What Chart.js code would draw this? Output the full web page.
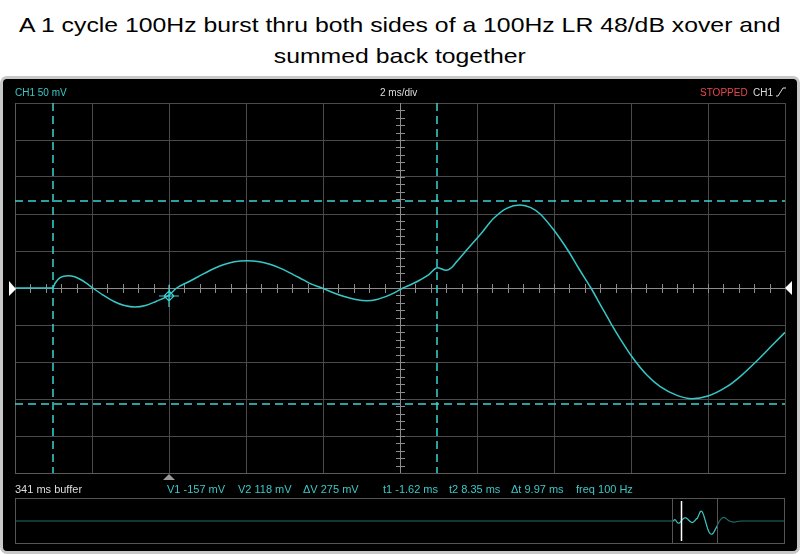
<!DOCTYPE html>
<html lang="en">
<head>
<meta charset="UTF-8">
<title>100Hz burst - LR 48dB xover summed</title>
<style>
  body { margin: 0; width: 800px; height: 554px; background: #fff; position: relative; overflow: hidden;
         font-family: "Liberation Sans", Arial, sans-serif; }
  .title { position: absolute; left: 0; width: 800px; text-align: center; font-size: 21px; line-height: 31px; color: #000; }
  .title span { display: inline-block; transform: scaleX(1.18); transform-origin: center; }
  .scope { position: absolute; left: 0; top: 76px; width: 800px; height: 478px; box-sizing: border-box;
           background: #000; border: 3px solid #c8c8c8; border-radius: 7px; }
  canvas { position: absolute; left: 0; }
  .lbl { position: absolute; font-size: 11px; line-height: 12px; white-space: nowrap; color: #ddd; }
  .hd { font-size: 10px; }
  .cy { color: #3cc8c8; }
</style>
</head>
<body>
<div class="title" style="top:9px"><span>A 1 cycle 100Hz burst thru both sides of a 100Hz LR 48/dB xover and</span></div>
<div class="title" style="top:40px"><span>summed back together</span></div>
<div class="scope"></div>

<canvas id="main" width="800" height="410" style="top:75px"></canvas>
<canvas id="overview" width="800" height="64" style="top:490px"></canvas>

<!-- textos do cabeçalho e rodapé do osciloscópio -->
<div class="lbl hd cy" style="left:15px; top:87px">CH1 50 mV</div>
<div class="lbl hd" style="left:380px; top:87px">2 ms/div</div>
<div class="lbl hd" style="left:700px; top:87px; color:#e84848">STOPPED</div>
<div class="lbl hd" style="left:753px; top:87px">CH1</div>
<svg style="position:absolute; left:776px; top:87px" width="10" height="10"><polyline points="0,9 2,9 7,1 10,1" fill="none" stroke="#ddd" stroke-width="1"/></svg>

<div class="lbl" style="left:15px; top:483px">341 ms buffer</div>
<div class="lbl cy" style="left:167px; top:483px">V1 -157 mV</div>
<div class="lbl cy" style="left:238px; top:483px">V2 118 mV</div>
<div class="lbl cy" style="left:303px; top:483px">&Delta;V 275 mV</div>
<div class="lbl cy" style="left:383px; top:483px">t1 -1.62 ms</div>
<div class="lbl cy" style="left:449px; top:483px">t2 8.35 ms</div>
<div class="lbl cy" style="left:511px; top:483px">&Delta;t 9.97 ms</div>
<div class="lbl cy" style="left:576px; top:483px">freq 100 Hz</div>

<script src="https://cdn.jsdelivr.net/npm/chart.js"></script>
<script>
const TIME_MS = [-2.6, -1.62, -1.56, -1.43, -1.22, -1.05, -0.91, -0.75, -0.58, -0.305, -0.03, 0.245, 0.52,
                 0.79, 1.06, 1.37, 1.6, 1.95, 2.29, 2.6, 2.81, 3.1, 3.42, 3.75, 4.02, 4.3, 4.54, 4.89, 5.1,
                 5.37, 5.65, 5.95, 6.25, 6.54, 6.8, 7.01, 7.25, 7.48, 7.7, 7.92, 8.15, 8.37, 8.6, 8.75,
                 8.87, 9.11, 9.53, 9.82, 10.17, 10.52, 10.8, 11.04, 11.4, 11.76, 12.06, 12.36, 12.62,
                 12.88, 13.16, 13.44, 13.8, 14.15, 14.61, 14.98, 15.4, 15.89, 16.25, 16.64, 17.15, 17.4];
const VOLTAGE_MV = [0, 0, 6.4, 13.9, 16.6, 15.2, 11.8, 6.5, 0, -9.8, -18.2, -23.7, -25.7,
                    -23.7, -18.2, -10.8, 0, 9.5, 19, 27, 31.5, 35.5, 36.9, 35.5, 32, 26.5, 20.5, 11, 5.3,
                    0, -6, -11.5, -15.5, -17.2, -15.5, -12, -6.5, 0, 5, 10.8, 18, 27.4, 23.9, 28,
                    35.5, 50, 75, 93.5, 107.7, 112.2, 108.7, 100, 78, 51, 25, 0, -24,
                    -48, -72, -94, -117, -133, -145.5, -149.6, -146, -133.4, -119, -100, -73, -60];

// resto do buffer (só aparece na visão geral)
const TAIL_MS = [18.6, 20.5, 23, 25, 28, 47.6];
const TAIL_MV = [0, 40, 0, -12, 0, 0];

// cursores e trigger
const CURSOR_T = [-1.62, 8.35];
const CURSOR_V = [-157, 118];
const TRIGGER_MS = 1.4;
const TRIGGER_MV = -10.8;

// escalas: 2 ms/div, 50 mV/div, 10 x 10 divisões
const X_MIN = -2.6, MS_PER_DIV = 2, DIVS_X = 10;
const V_PER_DIV = 50, DIVS_Y = 10;
const BUFFER_START = -293.4, BUFFER_END = 47.6;

const TRACE = '#36c8c8';
const CURSOR = '#3fd2d2';

const pontos = TIME_MS.map((t, i) => ({ x: t, y: VOLTAGE_MV[i] }));

// eixos centrais, cursores tracejados e marcadores
const scopeDecor = {
    id: 'scopeDecor',
    beforeDatasetsDraw(chart) {
        const { ctx, chartArea: a, scales: { x, y } } = chart;
        const cx = (a.left + a.right) / 2, cy = y.getPixelForValue(0);
        ctx.save();
        ctx.strokeStyle = '#8c8c8c';
        ctx.lineWidth = 1;
        ctx.beginPath();
        ctx.moveTo(a.left, Math.round(cy) + 0.5); ctx.lineTo(a.right, Math.round(cy) + 0.5);
        ctx.moveTo(Math.round(cx) + 0.5, a.top); ctx.lineTo(Math.round(cx) + 0.5, a.bottom);
        const dx = (a.right - a.left) / DIVS_X / 5;
        for (let i = 1; i < DIVS_X * 5; i++) {
            const px = Math.round(a.left + i * dx) + 0.5;
            ctx.moveTo(px, cy - 4); ctx.lineTo(px, cy + 5);
        }
        const dy = (a.bottom - a.top) / DIVS_Y / 5;
        for (let i = 1; i < DIVS_Y * 5; i++) {
            const py = Math.round(a.top + i * dy) + 0.5;
            ctx.moveTo(cx - 4, py); ctx.lineTo(cx + 5, py);
        }
        ctx.stroke();

        ctx.strokeStyle = CURSOR;
        ctx.lineWidth = 1.5;
        ctx.setLineDash([8, 5]);
        ctx.beginPath();
        CURSOR_T.forEach(t => {
            const px = Math.round(x.getPixelForValue(t));
            ctx.moveTo(px, a.top); ctx.lineTo(px, a.bottom);
        });
        CURSOR_V.forEach(v => {
            const py = Math.round(y.getPixelForValue(v));
            ctx.moveTo(a.left, py); ctx.lineTo(a.right, py);
        });
        ctx.stroke();
        ctx.restore();
    },
    afterDatasetsDraw(chart) {
        const { ctx, chartArea: a, scales: { x, y } } = chart;
        const cy = y.getPixelForValue(0);
        ctx.save();
        // marcador do trigger sobre o traço
        const tx = x.getPixelForValue(TRIGGER_MS), ty = y.getPixelForValue(TRIGGER_MV);
        ctx.strokeStyle = CURSOR;
        ctx.lineWidth = 1.2;
        ctx.beginPath();
        ctx.moveTo(tx - 10, ty); ctx.lineTo(tx + 10, ty);
        ctx.moveTo(tx, ty - 11); ctx.lineTo(tx, ty + 11);
        ctx.moveTo(tx, ty - 5); ctx.lineTo(tx + 5, ty); ctx.lineTo(tx, ty + 5); ctx.lineTo(tx - 5, ty); ctx.closePath();
        ctx.stroke();
        // seta do nível zero (esquerda e direita)
        ctx.fillStyle = '#fff';
        ctx.beginPath();
        ctx.moveTo(a.left - 6, cy - 7); ctx.lineTo(a.left + 1, cy + 1); ctx.lineTo(a.left - 6, cy + 8); ctx.closePath();
        ctx.fill();
        ctx.beginPath();
        ctx.moveTo(a.right + 7, cy - 7); ctx.lineTo(a.right, cy); ctx.lineTo(a.right + 7, cy + 7); ctx.closePath();
        ctx.fill();
        // triângulo da posição do trigger
        ctx.fillStyle = '#9a9a9a';
        ctx.beginPath();
        ctx.moveTo(tx - 6, a.bottom + 7); ctx.lineTo(tx, a.bottom + 1); ctx.lineTo(tx + 6, a.bottom + 7); ctx.closePath();
        ctx.fill();
        ctx.restore();
    }
};

const gradeX = {
    type: 'linear',
    min: X_MIN,
    max: X_MIN + MS_PER_DIV * DIVS_X,
    afterBuildTicks: s => { s.ticks = Array.from({ length: DIVS_X + 1 }, (_, i) => ({ value: X_MIN + i * MS_PER_DIV })); },
    ticks: { display: false },
    grid: { color: '#4a4a4a', drawTicks: false },
    border: { color: '#5a5a5a' }
};

new Chart(document.getElementById('main'), {
    type: 'line',
    data: {
        datasets: [{
            data: pontos,
            borderColor: TRACE,
            borderWidth: 1.5,
            pointRadius: 0,
            cubicInterpolationMode: 'monotone'
        }]
    },
    options: {
        responsive: false,
        animation: false,
        devicePixelRatio: 1,
        layout: { padding: { left: 15, right: 15, top: 28, bottom: 12 } },
        plugins: { legend: { display: false }, tooltip: { enabled: false } },
        scales: {
            x: gradeX,
            y: {
                min: -V_PER_DIV * DIVS_Y / 2,
                max: V_PER_DIV * DIVS_Y / 2,
                ticks: { display: false, stepSize: V_PER_DIV },
                grid: { color: '#4a4a4a', drawTicks: false },
                border: { color: '#5a5a5a' }
            }
        }
    },
    plugins: [scopeDecor]
});

// visão geral do buffer inteiro
const pontosBuffer = [{ x: BUFFER_START, y: 0 }].concat(pontos, TAIL_MS.map((t, i) => ({ x: t, y: TAIL_MV[i] })));
const janela = [X_MIN, X_MIN + MS_PER_DIV * DIVS_X];

const overviewDecor = {
    id: 'overviewDecor',
    afterDatasetsDraw(chart) {
        const { ctx, chartArea: a, scales: { x } } = chart;
        ctx.save();
        ctx.strokeStyle = '#555';
        ctx.lineWidth = 1;
        ctx.strokeRect(a.left + 0.5, a.top + 0.5, a.right - a.left - 1, a.bottom - a.top - 1);
        ctx.beginPath();
        janela.forEach(t => {
            const px = Math.round(x.getPixelForValue(t)) + 0.5;
            ctx.moveTo(px, a.top); ctx.lineTo(px, a.bottom);
        });
        ctx.stroke();
        ctx.strokeStyle = '#fff';
        ctx.lineWidth = 1.5;
        ctx.beginPath();
        const wx = Math.round(x.getPixelForValue(TRIGGER_MS)) + 0.5;
        ctx.moveTo(wx, a.top + 3); ctx.lineTo(wx, a.bottom - 3);
        ctx.stroke();
        ctx.restore();
    }
};

new Chart(document.getElementById('overview'), {
    type: 'line',
    data: {
        datasets: [{
            data: pontosBuffer,
            borderColor: TRACE,
            borderWidth: 1.2,
            pointRadius: 0,
            cubicInterpolationMode: 'monotone',
            segment: {
                borderColor: c => (c.p0.parsed.x >= janela[0] && c.p1.parsed.x <= janela[1]) ? '#3cc8c8' : '#1d6e70'
            }
        }]
    },
    options: {
        responsive: false,
        animation: false,
        devicePixelRatio: 1,
        layout: { padding: { left: 15, right: 15, top: 8, bottom: 10 } },
        plugins: { legend: { display: false }, tooltip: { enabled: false } },
        scales: {
            x: { type: 'linear', min: BUFFER_START, max: BUFFER_END, display: false },
            y: { min: -260, max: 260, display: false }
        }
    },
    plugins: [overviewDecor]
});
</script>
</body>
</html>
